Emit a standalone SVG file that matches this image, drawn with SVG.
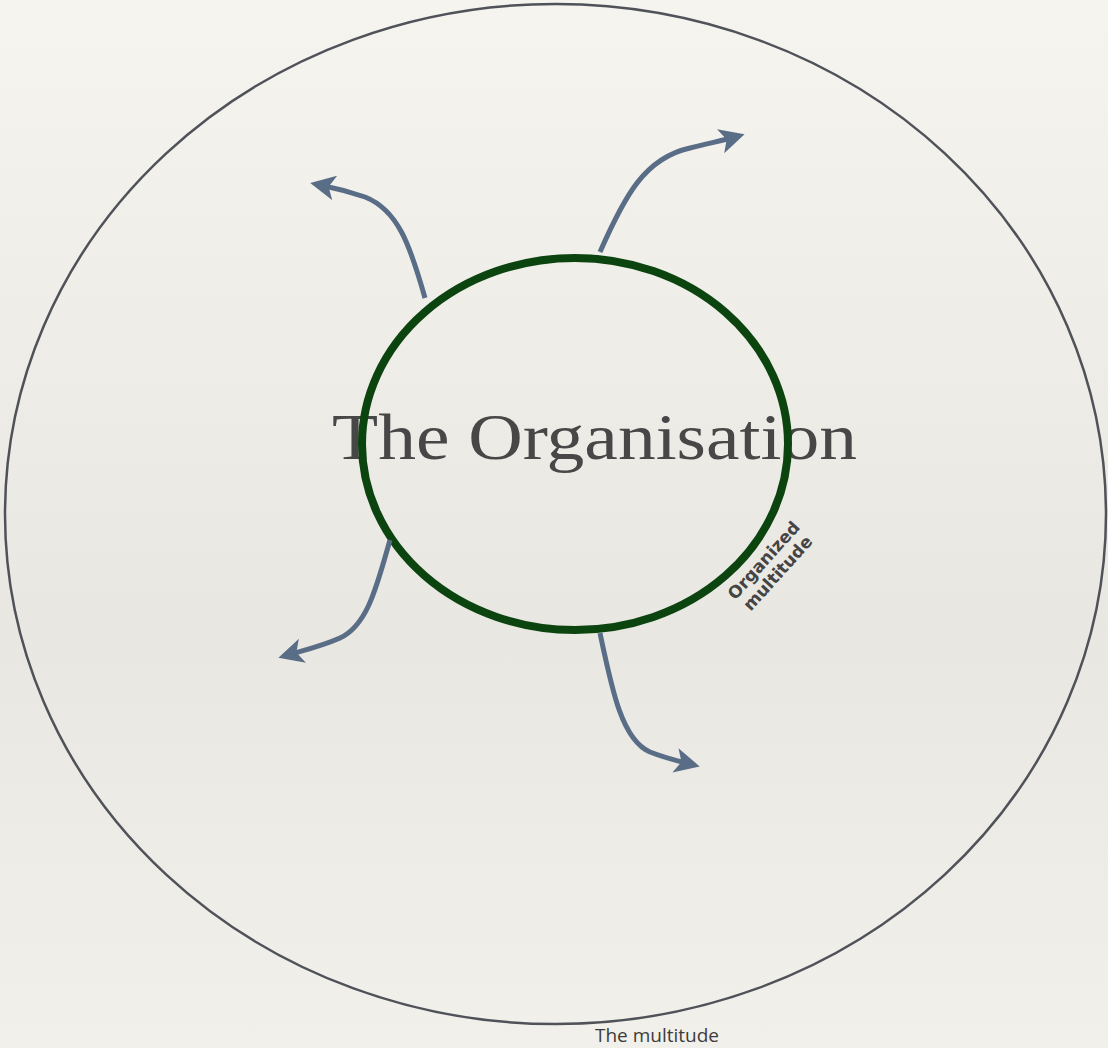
<svg xmlns="http://www.w3.org/2000/svg" width="1108" height="1048" viewBox="0 0 1108 1048">
<defs>
<linearGradient id="bg" x1="0" y1="0" x2="0" y2="1">
<stop offset="0" stop-color="#f6f4ef"/>
<stop offset="0.6" stop-color="#e9e7e2"/>
<stop offset="1" stop-color="#f2f0eb"/>
</linearGradient>
<marker id="ah" viewBox="0 0 10 10" refX="6" refY="5" markerWidth="5" markerHeight="5" orient="auto" markerUnits="strokeWidth">
<path d="M0,0 L10,5 L0,10 L2.5,5 Z" fill="#5a6d87"/>
</marker>
<style>
.arrow{fill:none;stroke:#5a6d87;stroke-width:5;marker-end:url(#ah)}
</style>
</defs>
<rect width="1108" height="1048" fill="url(#bg)"/>
<g id="multitude">
<ellipse cx="555.5" cy="514" rx="550.5" ry="510" fill="none" stroke="#4f5259" stroke-width="2.5"/>
<text x="657" y="1042" font-family="Open Sans, Lato, sans-serif" font-size="19" fill="#3d3d3d" text-anchor="middle">The multitude</text>
</g>
<g id="organisation">
<text x="332" y="459" font-family="Liberation Serif, DejaVu Serif, serif" font-size="66" fill="#474747" textLength="525" lengthAdjust="spacingAndGlyphs">The Organisation</text>
<ellipse cx="575" cy="444" rx="213" ry="186" fill="none" stroke="#0c4410" stroke-width="8"/>
<text transform="translate(771,567) rotate(-48)" font-family="DejaVu Sans, sans-serif" font-weight="bold" font-size="17" fill="#444" text-anchor="middle"><tspan x="0" y="-4">Organized</tspan><tspan x="0" y="15">multitude</tspan></text>
</g>
<g id="connectors">
<path class="arrow" d="M425,298 C410,245 398,210 365,197 C350,192 335,188 320,185"/>
<path class="arrow" d="M600,252 C625,195 645,158 690,148 C710,143 725,140 735,137"/>
<path class="arrow" d="M390,540 C377,585 368,625 340,638 C322,646 305,650 288,655"/>
<path class="arrow" d="M600,633 C612,690 622,740 650,752 C665,758 678,761 690,764"/>
</g>
</svg>
